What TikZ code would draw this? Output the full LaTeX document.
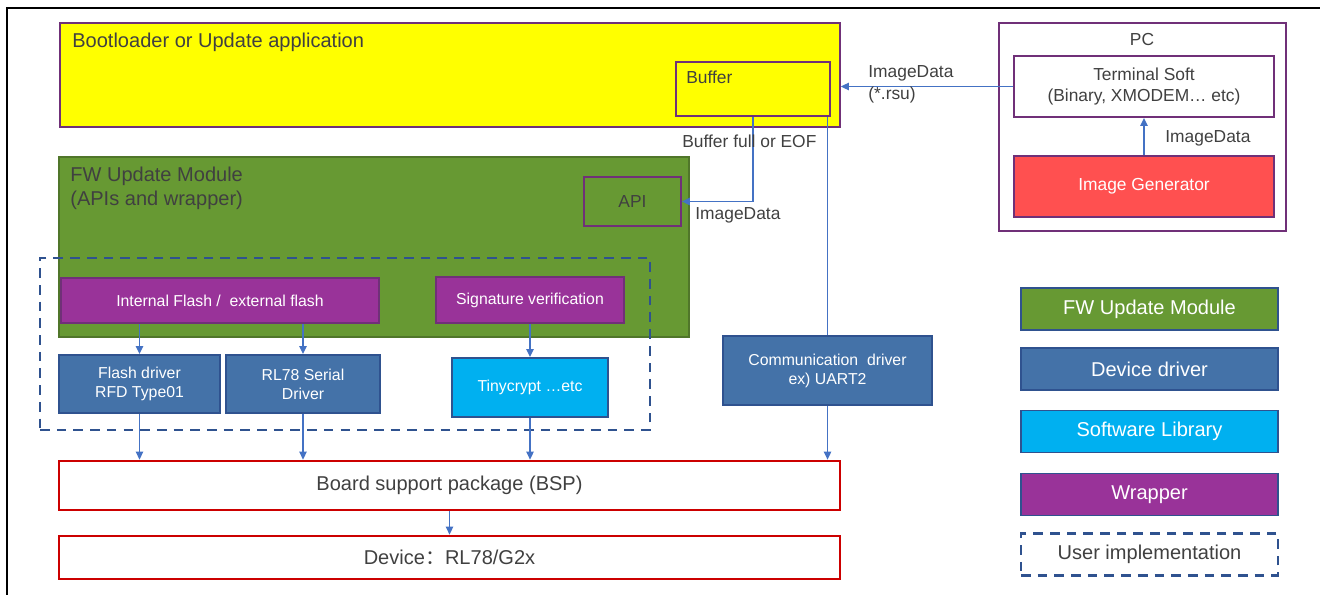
\documentclass[tikz,border=0pt]{standalone}
\usepackage{fontspec}
\setmainfont{Liberation Sans}
\newfontfamily\cjk{Noto Sans CJK SC}
\usetikzlibrary{arrows.meta,positioning}
\definecolor{yel}{RGB}{255,255,0}
\definecolor{purp}{RGB}{112,48,120}
\definecolor{wrapfill}{RGB}{153,51,153}
\definecolor{fwgreen}{RGB}{103,153,51}
\definecolor{fwedge}{RGB}{80,118,42}
\definecolor{drvblue}{RGB}{68,114,168}
\definecolor{drvedge}{RGB}{47,82,143}
\definecolor{libcyan}{RGB}{0,176,240}
\definecolor{genred}{RGB}{255,80,80}
\definecolor{bspred}{RGB}{204,0,0}
\definecolor{arrblue}{RGB}{68,114,196}
\definecolor{txtgray}{RGB}{64,64,64}
\begin{document}
\begin{tikzpicture}[x=0.02cm,y=-0.02cm]
    \tikzstyle{big}=[font=\fontsize{11.4}{13.6}\selectfont]
    \tikzstyle{mid}=[font=\fontsize{9.9}{12.4}\selectfont]
    \tikzstyle{small}=[font=\fontsize{9}{10.8}\selectfont]
    \tikzstyle{box}=[draw,line width=1.1pt,inner sep=2pt,align=center]
    \tikzstyle{appbox}=[box,fill=yel,draw=purp]
    \tikzstyle{fwbox}=[box,fill=fwgreen,draw=fwedge,text=txtgray]
    \tikzstyle{wrapper}=[box,small,fill=wrapfill,draw=purp,text=white]
    \tikzstyle{driver}=[box,small,fill=drvblue,draw=drvedge,text=white]
    \tikzstyle{swlib}=[box,small,fill=libcyan,draw=drvedge,text=white]
    \tikzstyle{layer}=[box,big,draw=bspred,line width=1.6pt,text=txtgray,
      minimum width=15.62cm]
    \tikzstyle{pcbox}=[box,mid,draw=purp,text=txtgray,minimum width=5.2cm,
      minimum height=1.22cm]
    \tikzstyle{userimpl}=[draw=drvedge,line width=1.4pt,dash pattern=on 5.5pt off 4pt]
    \tikzstyle{legend}=[box,big,minimum width=5.14cm,minimum height=0.84cm]
    \tikzstyle{txt}=[mid,text=txtgray,inner sep=0pt,align=left]
    \tikzstyle{link}=[draw=arrblue,line width=0.8pt]
    \tikzstyle{arr}=[link,-{Triangle[length=4.5pt,width=4.2pt]}]
    \useasboundingbox (0,0) rectangle (1320,595);
    % frame
    \draw[line width=1.7pt] (7,595) -- (7,8) -- (1320,8);
    % bootloader
    \node[appbox,minimum width=15.6cm,minimum height=2.08cm] (boot) at (450,75) {};
    \node[txt,big,anchor=west] (boottxt) at (72,42) {Bootloader or Update application};
    \node[appbox,line width=1.4pt,minimum width=3.08cm,minimum height=1.08cm] (buf) at (753,89) {};
    \node[txt,anchor=west] (buftxt) at (686,77) {Buffer};
    % FW update module
    \node[fwbox,minimum width=12.6cm,minimum height=3.6cm] (fw) at (374,247) {};
    \node[txt,big,anchor=west] (fwtxt) at (70,188) {FW Update Module\\(APIs and wrapper)};
    \node[fwbox,mid,draw=purp,minimum width=1.94cm,minimum height=0.98cm] (api) at (632.5,201.5) {API};
    \node[wrapper,minimum width=6.36cm,minimum height=0.9cm] (intf) at (220,300.5) {Internal Flash /~~external flash};
    \node[wrapper,minimum width=3.76cm,minimum height=0.92cm] (sig) at (530,300) {Signature verification};
    \node[userimpl,minimum width=12.2cm,minimum height=3.44cm] (user) at (345,344) {};
    % drivers
    \node[driver,minimum width=3.22cm,minimum height=1.16cm] (flash) at (139.5,384) {Flash driver\\RFD Type01};
    \node[driver,minimum width=3.08cm,minimum height=1.16cm] (rl) at (303,384) {RL78 Serial\\Driver};
    \node[swlib,minimum width=3.12cm,minimum height=1.18cm] (tiny) at (530,387.5) {Tinycrypt …etc};
    \node[driver,minimum width=4.18cm,minimum height=1.38cm] (comm) at (827.5,370.5) {Communication~~driver\\ex) UART2};
    % BSP and device
    \node[layer,minimum height=0.98cm] (bsp) at (449.5,485.5) {Board support package (BSP)};
    \node[layer,minimum height=0.86cm] (dev) at (449.5,557.5) {Device{\cjk ：}RL78/G2x};
    % PC
    \node[box,draw=purp,minimum width=5.74cm,minimum height=4.16cm] (pc) at (1142.5,127) {};
    \node[txt] (pctxt) at (1142,40) {PC};
    \node[pcbox] (term) at (1144,86.5) {Terminal Soft\\(Binary, XMODEM… etc)};
    \node[pcbox,fill=genred,text=white] (img) at (1144,186.5) {Image Generator};
    % legend
    \node[legend,fill=fwgreen,draw=drvedge,text=white] (lgfw) at (1149.5,309) {FW Update Module};
    \node[legend,fill=drvblue,draw=drvedge,text=white] (lgdrv) at (1149.5,369) {Device driver};
    \node[legend,fill=libcyan,draw=drvedge,text=white] (lglib) at (1149.5,431.5) {Software Library};
    \node[legend,fill=wrapfill,draw=drvedge,text=white] (lgwrap) at (1149.5,494.5) {Wrapper};
    \node[legend,userimpl,text=txtgray] (lguser) at (1149.5,554.5) {User implementation};
    % connectors
    \draw[arr] (term.west) -- (term.west -| boot.east);
    \node[txt,anchor=west] (lbrsu) at (868,84) {ImageData\\(*.rsu)};
    \draw[arr] (img.north) -- (term.south);
    \node[txt,anchor=west] (lbimg) at (1165,138) {ImageData};
    \draw[arr] (buf.south) |- (api.east);
    \node[txt,anchor=west] (lbfull) at (682,141) {Buffer full or EOF};
    \node[txt,anchor=west] (lbapi) at (695,215) {ImageData};
    \draw[link] (buf.south -| comm.north) -- (comm.north);
    \draw[arr] (intf.south -| flash.north) -- (flash.north);
    \draw[arr] (intf.south -| rl.north) -- (rl.north);
    \draw[arr] (sig.south) -- (tiny.north);
    \draw[arr] (flash.south) -- (flash.south |- bsp.north);
    \draw[arr] (rl.south) -- (rl.south |- bsp.north);
    \draw[arr] (tiny.south) -- (tiny.south |- bsp.north);
    \draw[arr] (comm.south) -- (comm.south |- bsp.north);
    \draw[arr] (bsp.south) -- (dev.north);
\end{tikzpicture}
\end{document}
